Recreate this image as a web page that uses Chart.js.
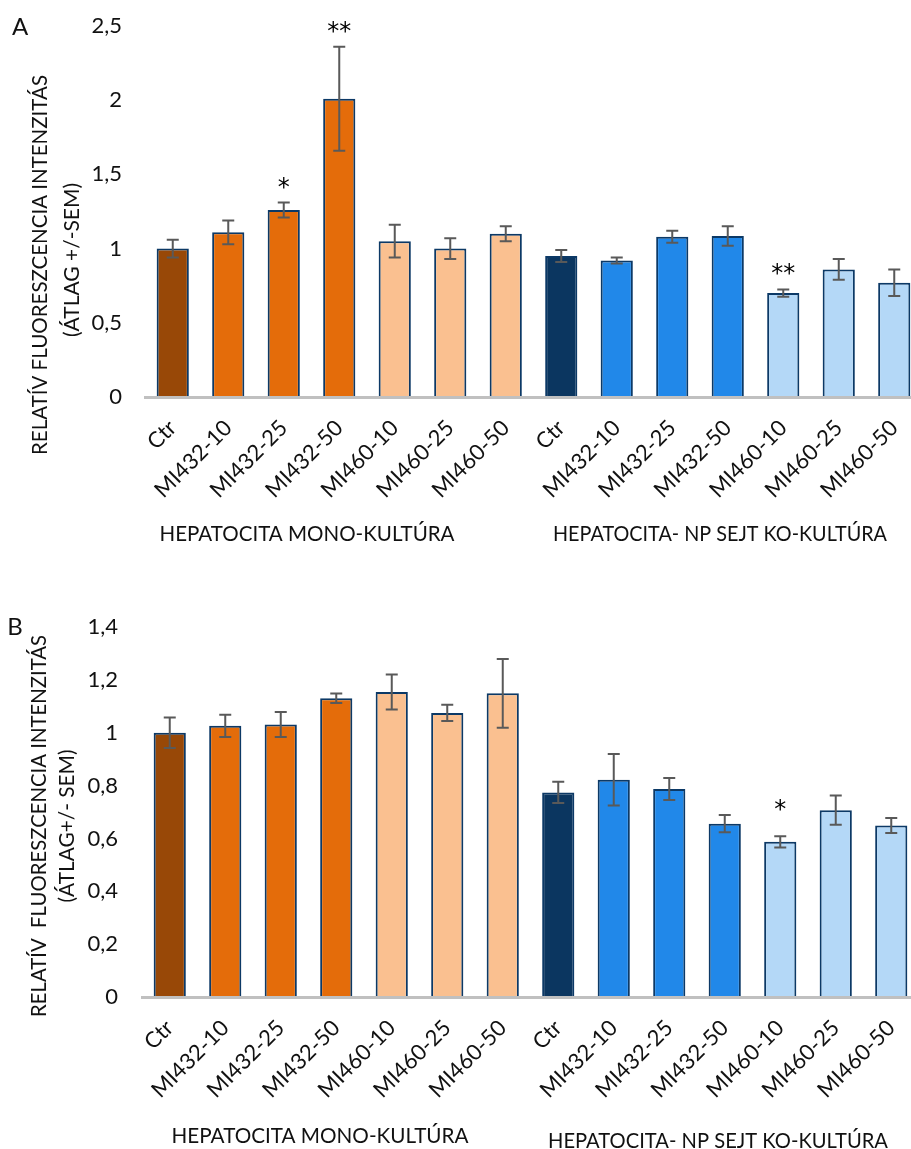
<!DOCTYPE html>
<html>
<head>
<meta charset="utf-8">
<script src="https://cdn.jsdelivr.net/npm/chart.js@4.4.1/dist/chart.umd.min.js"></script>
<style>
    html, body { margin: 0; padding: 0; background: #fff; overflow: hidden; }
    canvas { position: absolute; left: 0; }
    #chartA { top: 0; }
    #chartB { top: 580px; }
</style>
</head>
<body>
<canvas id="chartA" width="930" height="570"></canvas>
<canvas id="chartB" width="930" height="569"></canvas>
<script>
(function () {
    'use strict';

    var categories = ['Ctr', 'MI432-10', 'MI432-25', 'MI432-50', 'MI460-10', 'MI460-25', 'MI460-50',
        'Ctr', 'MI432-10', 'MI432-25', 'MI432-50', 'MI460-10', 'MI460-25', 'MI460-50'];
    var groupLabels = ['HEPATOCITA MONO-KULTÚRA', 'HEPATOCITA- NP SEJT KO-KULTÚRA'];

    var valuesA = [1.00, 1.11, 1.26, 2.01, 1.05, 1.00, 1.10, 0.95, 0.92, 1.08, 1.085, 0.70, 0.86, 0.77];
    var errorsA = [0.06, 0.08, 0.05, 0.35, 0.11, 0.07, 0.05, 0.04, 0.02, 0.04, 0.065, 0.025, 0.07, 0.09];
    var signifA = ['', '', '*', '**', '', '', '', '', '', '', '', '**', '', ''];

    var valuesB = [1.00, 1.026, 1.031, 1.13, 1.154, 1.075, 1.149, 0.774, 0.822, 0.787, 0.656, 0.587, 0.707, 0.649];
    var errorsB = [0.058, 0.042, 0.047, 0.018, 0.066, 0.031, 0.13, 0.04, 0.097, 0.042, 0.033, 0.021, 0.055, 0.028];
    var signifB = ['', '', '', '', '', '', '', '', '', '', '', '*', '', ''];

    var brown = '#984807', orange = '#e46c0a', peach = '#fac090';
    var navy = '#0b3660', blue = '#2188e9', sky = '#b4d8f7';
    var barColors = [brown, orange, orange, orange, peach, peach, peach, navy, blue, blue, blue, sky, sky, sky];

    var FONT = 'Lato, "Open Sans", sans-serif';
    var INK = '#111';

    Chart.defaults.font.family = FONT;

    function commaTick(v) {
        return String(Number(v.toFixed(1))).replace('.', ',');
    }

    // error bars + significance stars, drawn over the bars
    var errorBarPlugin = {
        id: 'errorBars',
        afterDatasetsDraw: function (chart, args, opts) {
            var ctx = chart.ctx;
            var y = chart.scales.y;
            var data = chart.data.datasets[0].data;
            var meta = chart.getDatasetMeta(0);
            ctx.save();
            ctx.strokeStyle = '#595959';
            ctx.lineWidth = 2;
            meta.data.forEach(function (bar, i) {
                var top = y.getPixelForValue(data[i] + opts.errors[i]);
                var bot = y.getPixelForValue(data[i] - opts.errors[i]);
                ctx.beginPath();
                ctx.moveTo(bar.x, top);
                ctx.lineTo(bar.x, bot);
                ctx.moveTo(bar.x - 6, top);
                ctx.lineTo(bar.x + 6, top);
                ctx.moveTo(bar.x - 6, bot);
                ctx.lineTo(bar.x + 6, bot);
                ctx.stroke();
                var s = opts.signif[i];
                if (s) {
                    ctx.font = '24px "DejaVu Sans", sans-serif';
                    ctx.fillStyle = '#000';
                    ctx.textAlign = 'center';
                    ctx.textBaseline = 'alphabetic';
                    var m = ctx.measureText(s);
                    var yc = top - opts.starGap;
                    ctx.fillText(s, bar.x, yc + (m.actualBoundingBoxAscent - m.actualBoundingBoxDescent) / 2);
                }
            });
            ctx.restore();
        }
    };

    // panel letter, y-axis title and the two group captions
    var captionPlugin = {
        id: 'captions',
        afterDraw: function (chart, args, opts) {
            var ctx = chart.ctx;
            ctx.save();
            ctx.fillStyle = INK;
            ctx.textAlign = 'center';
            ctx.textBaseline = 'middle';

            ctx.font = '24px ' + FONT;
            ctx.fillText(opts.letter, opts.letterPos[0], opts.letterPos[1]);

            ctx.font = '21px ' + FONT;
            opts.yTitle.forEach(function (t) {
                ctx.save();
                ctx.translate(t.x, t.y);
                ctx.rotate(-Math.PI / 2);
                ctx.fillText(t.text, 0, 0, t.w);
                ctx.restore();
            });

            ctx.font = '21px ' + FONT;
            opts.groups.forEach(function (g, i) {
                ctx.fillText(groupLabels[i], g.x, g.y, g.w);
            });
            ctx.restore();
        }
    };

    function buildConfig(p) {
        return {
            type: 'bar',
            data: {
                labels: categories,
                datasets: [
                    {
                        data: p.values,
                        backgroundColor: barColors,
                        borderColor: '#0c3966',
                        borderWidth: 2,
                        categoryPercentage: 1,
                        barPercentage: 0.58,
                    },
                ],
            },
            options: {
                responsive: false,
                animation: false,
                layout: { padding: { left: 0, right: p.padRight, top: p.padTop, bottom: 0 } },
                plugins: {
                    legend: { display: false },
                    tooltip: { enabled: false },
                    errorBars: { errors: p.errors, signif: p.signif, starGap: p.starGap },
                    captions: { letter: p.letter, letterPos: p.letterPos, yTitle: p.yTitle, groups: p.groups },
                },
                scales: {
                    x: {
                        grid: { display: false },
                        border: { color: '#c0c0c0', width: 3, z: 1 },
                        ticks: {
                            autoSkip: false,
                            minRotation: 45,
                            maxRotation: 45,
                            padding: 10,
                            color: INK,
                            font: { size: 22 },
                        },
                        afterFit: function (s) {
                            s.height = p.xHeight;
                            s.paddingLeft = 0;
                            s.paddingRight = 0;
                        },
                    },
                    y: {
                        min: 0,
                        max: p.max,
                        grid: { display: false },
                        border: { display: false },
                        ticks: {
                            stepSize: p.step,
                            padding: p.tickPad,
                            color: INK,
                            font: { size: 22 },
                            callback: commaTick,
                        },
                        afterFit: function (s) {
                            s.width = p.yWidth;
                            s.paddingTop = 0;
                            s.paddingBottom = 0;
                        },
                    },
                },
            },
            plugins: [errorBarPlugin, captionPlugin],
        };
    }

    new Chart(document.getElementById('chartA'), buildConfig({
        values: valuesA, errors: errorsA, signif: signifA, starGap: 20,
        max: 2.5, step: 0.5, tickPad: 15,
        padTop: 26, padRight: 8, yWidth: 145, xHeight: 173,
        letter: 'A', letterPos: [20, 27],
        yTitle: [
            { text: 'RELATÍV FLUORESZCENCIA INTENZITÁS', x: 40, y: 265, w: 380 },
            { text: '(ÁTLAG +/-SEM)', x: 72, y: 260, w: 156 },
        ],
        groups: [{ x: 307, y: 534, w: 295 }, { x: 720, y: 534, w: 334 }],
    }));

    new Chart(document.getElementById('chartB'), buildConfig({
        values: valuesB, errors: errorsB, signif: signifB, starGap: 31,
        max: 1.4, step: 0.2, tickPad: 16,
        padTop: 47, padRight: 11, yWidth: 142, xHeight: 152,
        letter: 'B', letterPos: [15, 47],
        yTitle: [
            { text: 'RELATÍV  FLUORESZCENCIA INTENZITÁS', x: 39, y: 246, w: 382 },
            { text: '(ÁTLAG+/- SEM)', x: 67, y: 246, w: 153 },
        ],
        groups: [{ x: 320, y: 556, w: 297 }, { x: 718, y: 561, w: 340 }],
    }));
})();
</script>
</body>
</html>
